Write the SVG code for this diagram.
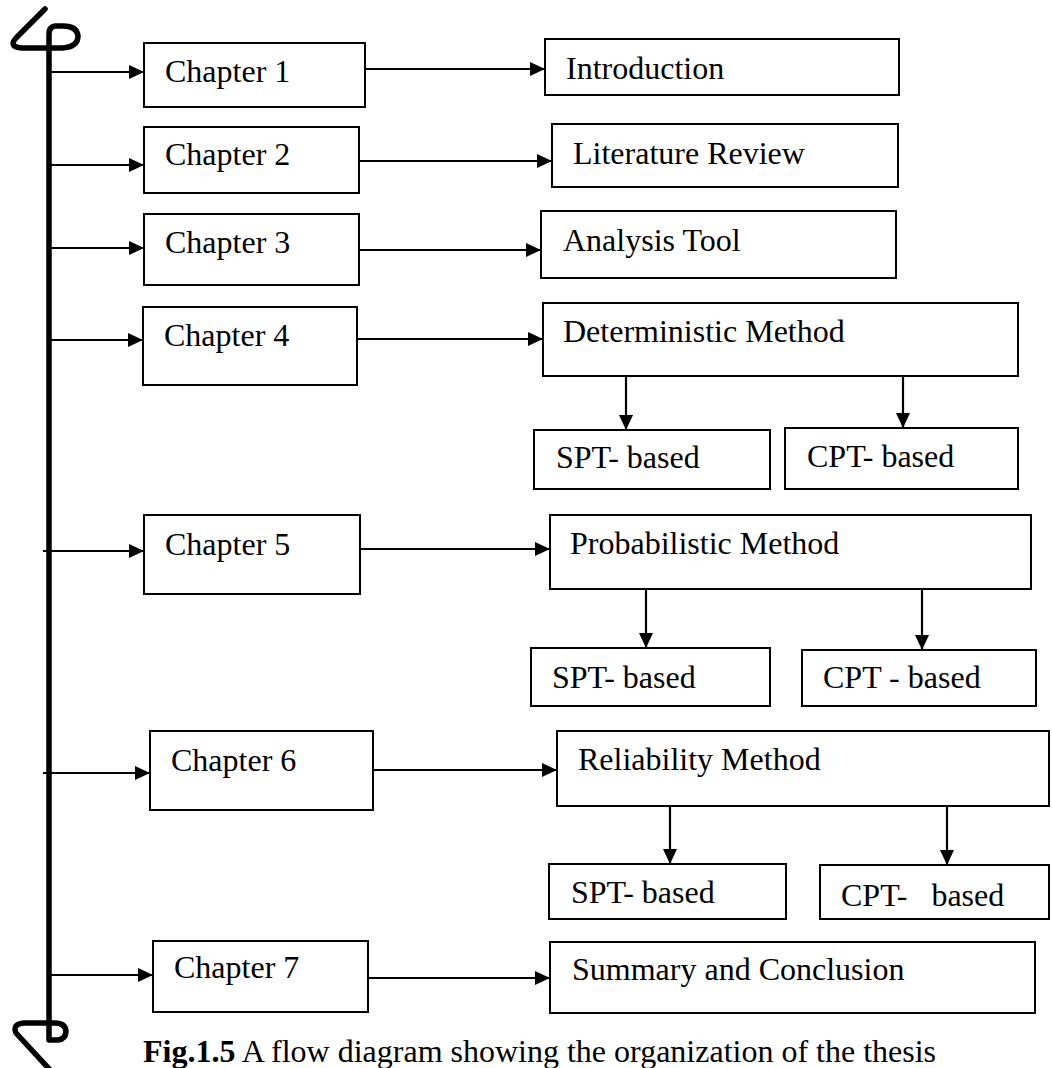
<svg xmlns="http://www.w3.org/2000/svg" width="1052" height="1068" viewBox="0 0 1052 1068">
<style>
.box{fill:#fff;stroke:#000;stroke-width:2}
.t{font-family:"Liberation Serif","Times New Roman",serif;font-size:32px;fill:#000}
.c{stroke:#000;stroke-width:2.2;fill:none}
.spine{stroke:#000;stroke-width:5.5;fill:none;stroke-linecap:round;stroke-linejoin:round}
</style>
<defs>
<marker id="ah" markerUnits="userSpaceOnUse" markerWidth="15" markerHeight="14" refX="15" refY="7" orient="auto">
<path d="M0,0 L15,7 L0,14 z" fill="#000"/>
</marker>
</defs>
<rect width="1052" height="1068" fill="#fff"/>
<g id="spine">
<path class="spine" d="M45 9 L16 38 Q8 47 22 48 L62 48 Q78 47 78 36 Q77 26 63 26 L55 26 Q49 27 49 34 L49 1040 L58 1040 Q66 1039 66 1031 Q65 1023 55 1023 L24 1023 Q12 1024 16 1033 L52 1072"/>
</g>
<g id="connectors">
<line class="c" x1="49" y1="72" x2="144" y2="72" marker-end="url(#ah)"/>
<line class="c" x1="49" y1="165" x2="144" y2="165" marker-end="url(#ah)"/>
<line class="c" x1="49" y1="248" x2="144" y2="248" marker-end="url(#ah)"/>
<line class="c" x1="49" y1="340" x2="143" y2="340" marker-end="url(#ah)"/>
<line class="c" x1="43" y1="551" x2="144" y2="551" marker-end="url(#ah)"/>
<line class="c" x1="43" y1="773" x2="150" y2="773" marker-end="url(#ah)"/>
<line class="c" x1="49" y1="975" x2="153" y2="975" marker-end="url(#ah)"/>
<line class="c" x1="365" y1="69" x2="545" y2="69" marker-end="url(#ah)"/>
<line class="c" x1="359" y1="161" x2="552" y2="161" marker-end="url(#ah)"/>
<line class="c" x1="355" y1="250" x2="541" y2="250" marker-end="url(#ah)"/>
<line class="c" x1="357" y1="339" x2="543" y2="339" marker-end="url(#ah)"/>
<line class="c" x1="360" y1="549" x2="550" y2="549" marker-end="url(#ah)"/>
<line class="c" x1="373" y1="770" x2="557" y2="770" marker-end="url(#ah)"/>
<line class="c" x1="368" y1="978" x2="550" y2="978" marker-end="url(#ah)"/>
<line class="c" x1="626" y1="376" x2="626" y2="430" marker-end="url(#ah)"/>
<line class="c" x1="903" y1="376" x2="903" y2="428" marker-end="url(#ah)"/>
<line class="c" x1="646" y1="589" x2="646" y2="648" marker-end="url(#ah)"/>
<line class="c" x1="922" y1="589" x2="922" y2="650" marker-end="url(#ah)"/>
<line class="c" x1="670" y1="806" x2="670" y2="864" marker-end="url(#ah)"/>
<line class="c" x1="947" y1="806" x2="947" y2="865" marker-end="url(#ah)"/>
</g>
<g id="ch1"><rect class="box" x="144" y="43" width="221" height="64"/><text class="t" x="165" y="82">Chapter 1</text></g>
<g id="ch2"><rect class="box" x="144" y="127" width="215" height="66"/><text class="t" x="165" y="165">Chapter 2</text></g>
<g id="ch3"><rect class="box" x="144" y="214" width="215" height="71"/><text class="t" x="165" y="253">Chapter 3</text></g>
<g id="ch4"><rect class="box" x="143" y="307" width="214" height="78"/><text class="t" x="164" y="346">Chapter 4</text></g>
<g id="ch5"><rect class="box" x="144" y="515" width="216" height="79"/><text class="t" x="165" y="555">Chapter 5</text></g>
<g id="ch6"><rect class="box" x="150" y="731" width="223" height="79"/><text class="t" x="171" y="771">Chapter 6</text></g>
<g id="ch7"><rect class="box" x="153" y="941" width="215" height="71"/><text class="t" x="174" y="978">Chapter 7</text></g>
<g id="intro"><rect class="box" x="545" y="39" width="354" height="56"/><text class="t" x="566" y="79">Introduction</text></g>
<g id="litrev"><rect class="box" x="552" y="124" width="346" height="63"/><text class="t" x="573" y="164">Literature Review</text></g>
<g id="tool"><rect class="box" x="541" y="211" width="355" height="67"/><text class="t" x="563" y="251">Analysis Tool</text></g>
<g id="det"><rect class="box" x="543" y="303" width="475" height="73"/><text class="t" x="563" y="342">Deterministic Method</text></g>
<g id="det-spt"><rect class="box" x="534" y="430" width="236" height="59"/><text class="t" x="556" y="468">SPT- based</text></g>
<g id="det-cpt"><rect class="box" x="785" y="428" width="233" height="61"/><text class="t" x="807" y="467">CPT- based</text></g>
<g id="prob"><rect class="box" x="550" y="515" width="481" height="74"/><text class="t" x="570" y="554">Probabilistic Method</text></g>
<g id="prob-spt"><rect class="box" x="531" y="648" width="239" height="58"/><text class="t" x="552" y="688">SPT- based</text></g>
<g id="prob-cpt"><rect class="box" x="802" y="650" width="234" height="56"/><text class="t" x="823" y="688">CPT - based</text></g>
<g id="rel"><rect class="box" x="557" y="731" width="492" height="75"/><text class="t" x="578" y="770">Reliability Method</text></g>
<g id="rel-spt"><rect class="box" x="549" y="864" width="237" height="55"/><text class="t" x="571" y="903">SPT- based</text></g>
<g id="rel-cpt"><rect class="box" x="820" y="865" width="229" height="54"/><text class="t" x="841" y="906" xml:space="preserve">CPT-   based</text></g>
<g id="summary"><rect class="box" x="550" y="942" width="485" height="71"/><text class="t" x="572" y="980">Summary and Conclusion</text></g>
<text class="t" x="143" y="1062"><tspan font-weight="bold">Fig.1.5</tspan> A flow diagram showing the organization of the thesis</text>
</svg>
